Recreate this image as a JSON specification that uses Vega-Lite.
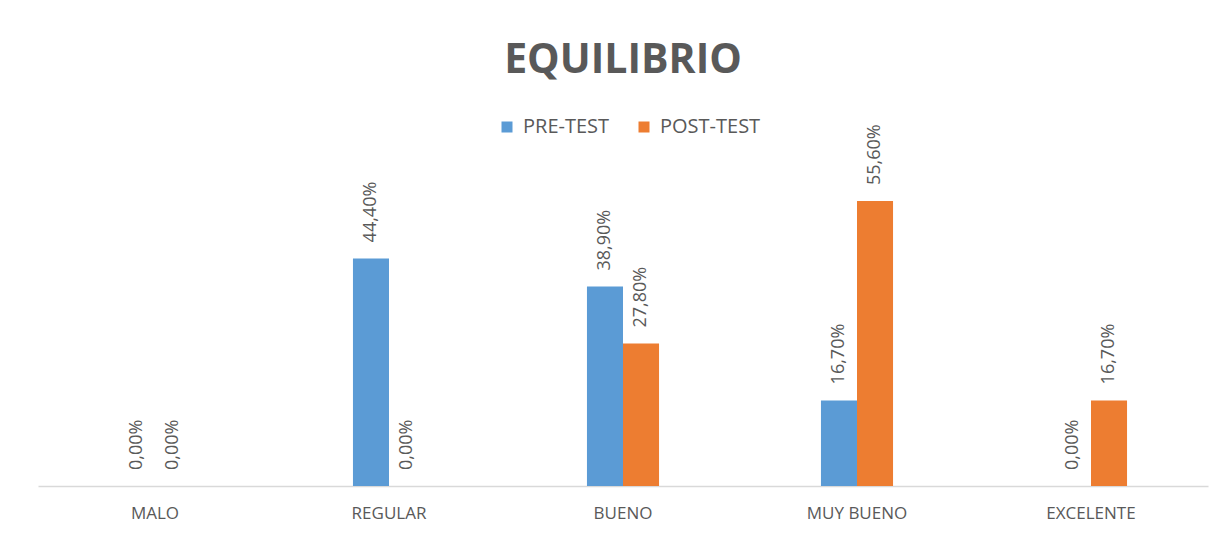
{
  "$schema": "https://vega.github.io/schema/vega-lite/v6.json",
  "width": 1170,
  "height": 386,
  "autosize": "none",
  "padding": {"left": 38, "top": 100, "right": 18, "bottom": 50},
  "background": "white",
  "title": {
    "text": "EQUILIBRIO",
    "font": "Open Sans",
    "fontSize": 41,
    "fontWeight": "bold",
    "color": "#595959",
    "anchor": "middle",
    "frame": "group",
    "baseline": "alphabetic",
    "offset": -14
  },
  "data": {
    "values": [
      {"categoria": "MALO", "serie": "PRE-TEST", "valor": 0, "etiqueta": "0,00%"},
      {"categoria": "MALO", "serie": "POST-TEST", "valor": 0, "etiqueta": "0,00%"},
      {"categoria": "REGULAR", "serie": "PRE-TEST", "valor": 44.4, "etiqueta": "44,40%"},
      {"categoria": "REGULAR", "serie": "POST-TEST", "valor": 0, "etiqueta": "0,00%"},
      {"categoria": "BUENO", "serie": "PRE-TEST", "valor": 38.9, "etiqueta": "38,90%"},
      {"categoria": "BUENO", "serie": "POST-TEST", "valor": 27.8, "etiqueta": "27,80%"},
      {"categoria": "MUY BUENO", "serie": "PRE-TEST", "valor": 16.7, "etiqueta": "16,70%"},
      {"categoria": "MUY BUENO", "serie": "POST-TEST", "valor": 55.6, "etiqueta": "55,60%"},
      {"categoria": "EXCELENTE", "serie": "PRE-TEST", "valor": 0, "etiqueta": "0,00%"},
      {"categoria": "EXCELENTE", "serie": "POST-TEST", "valor": 16.7, "etiqueta": "16,70%"}
    ]
  },
  "encoding": {
    "x": {
      "field": "categoria",
      "type": "nominal",
      "sort": ["MALO", "REGULAR", "BUENO", "MUY BUENO", "EXCELENTE"],
      "scale": {"paddingInner": 0.692, "paddingOuter": 0.346},
      "axis": {
        "title": null,
        "labelAngle": 0,
        "labelFont": "Open Sans",
        "labelFontSize": 17,
        "labelColor": "#595959",
        "labelPadding": 19,
        "ticks": false,
        "domainColor": "#D9D9D9",
        "domainWidth": 1.5,
        "grid": false
      }
    },
    "xOffset": {"field": "serie", "sort": ["PRE-TEST", "POST-TEST"]},
    "y": {
      "field": "valor",
      "type": "quantitative",
      "scale": {"domain": [0, 75.3]},
      "axis": null
    }
  },
  "layer": [
    {
      "mark": {"type": "bar"},
      "encoding": {
        "color": {
          "field": "serie",
          "type": "nominal",
          "sort": ["PRE-TEST", "POST-TEST"],
          "scale": {"domain": ["PRE-TEST", "POST-TEST"], "range": ["#5B9BD5", "#ED7D31"]},
          "legend": {
            "title": null,
            "orient": "none",
            "direction": "horizontal",
            "legendX": 459,
            "legendY": 17,
            "padding": 0,
            "symbolType": "square",
            "symbolSize": 121,
            "symbolStrokeWidth": 0,
            "labelFont": "Open Sans",
            "labelFontSize": 20,
            "labelColor": "#595959",
            "labelOffset": 6,
            "columnPadding": 24
          }
        }
      }
    },
    {
      "mark": {
        "type": "text",
        "angle": 270,
        "align": "left",
        "baseline": "middle",
        "dx": 16,
        "font": "Open Sans",
        "fontSize": 18,
        "color": "#595959"
      },
      "encoding": {"text": {"field": "etiqueta"}}
    }
  ],
  "config": {"view": {"stroke": null}}
}
